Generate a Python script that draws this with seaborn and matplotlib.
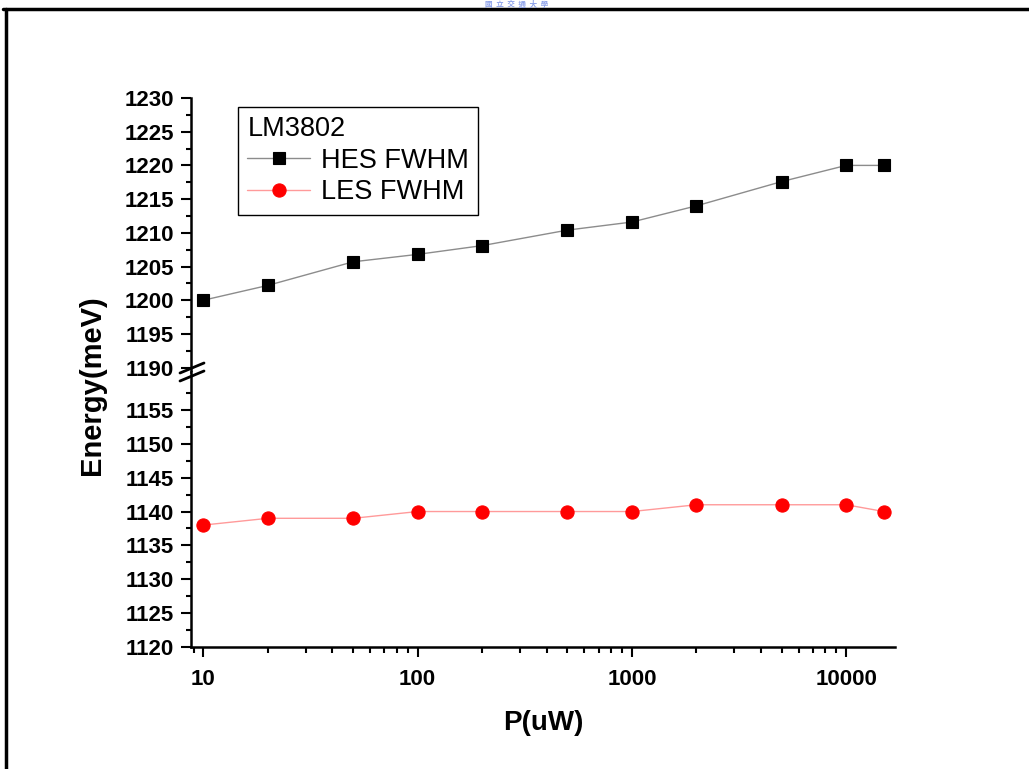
import matplotlib
matplotlib.use("Agg")
import matplotlib.pyplot as plt
from matplotlib.lines import Line2D
from matplotlib.ticker import FixedLocator, LogLocator, NullFormatter, FixedFormatter
import numpy as np
import pandas as pd
import seaborn as sns

# ---- data ----
power_uW = [10, 20, 50, 100, 200, 500, 1000, 2000, 5000, 10000, 15000]
hes_fwhm = [1200.0, 1202.2, 1205.7, 1206.8, 1208.1, 1210.4, 1211.6, 1214.0, 1217.6, 1220.0, 1220.0]
les_fwhm = [1138.0, 1139.0, 1139.0, 1140.0, 1140.0, 1140.0, 1140.0, 1141.0, 1141.0, 1141.0, 1140.0]
series_labels = ["HES FWHM", "LES FWHM"]
legend_title = "LM3802"
upper_yticks = [1190, 1195, 1200, 1205, 1210, 1215, 1220, 1225, 1230]
lower_yticks = [1120, 1125, 1130, 1135, 1140, 1145, 1150, 1155]
xticks = [10, 100, 1000, 10000]
xtick_labels = ["10", "100", "1000", "10000"]
x_label = "P(uW)"
y_label = "Energy(meV)"
watermark = "國  立  交  通  大  學"

df_hes = pd.DataFrame({"P": power_uW, "E": hes_fwhm})
df_les = pd.DataFrame({"P": power_uW, "E": les_fwhm})

sns.set_theme(style="ticks")
plt.rcParams["font.family"] = ["Liberation Sans", "DejaVu Sans"]
plt.rcParams.update({"text.color": "black", "axes.labelcolor": "black",
                     "xtick.color": "black", "ytick.color": "black",
                     "axes.edgecolor": "black"})

W, H = 1029, 769
fig = plt.figure(figsize=(W / 100, H / 100), dpi=100)
fig.patch.set_facecolor("white")

left_px, right_px = 191, 895
top_px, mid_px, bot_px = 98, 372, 647

def fy(py):
    return 1 - py / H

ax_top = fig.add_axes([left_px / W, fy(mid_px), (right_px - left_px) / W, (mid_px - top_px) / H])
ax_bot = fig.add_axes([left_px / W, fy(bot_px), (right_px - left_px) / W, (bot_px - mid_px) / H])

sns.lineplot(data=df_hes, x="P", y="E", ax=ax_top, color="#8c8c8c", linewidth=1.0,
             marker="s", markersize=8, markerfacecolor="black", markeredgecolor="black",
             markeredgewidth=0.8, label=series_labels[0])
sns.lineplot(data=df_les, x="P", y="E", ax=ax_bot, color="#ff9a9a", linewidth=1.0,
             marker="o", markersize=9.5, markerfacecolor="#ff0000", markeredgecolor="#ff0000",
             markeredgewidth=0.8, label=series_labels[1])

for ax in (ax_top, ax_bot):
    ax.set_xscale("log")
    ax.set_xlim(8.75, 16900)
    ax.set_facecolor("white")
    ax.spines["top"].set_visible(False)
    ax.spines["right"].set_visible(False)
    ax.spines["left"].set_linewidth(1.8)
    ax.spines["bottom"].set_linewidth(1.8)
    ax.spines["left"].set_color("black")
    ax.spines["bottom"].set_color("black")
    ax.set_xlabel("")
    ax.set_ylabel("")
    ax.tick_params(axis="y", which="major", length=7, width=1.5, pad=5,
                   labelsize=16, direction="out", colors="black")
    ax.tick_params(axis="y", which="minor", length=3.6, width=1.5, direction="out", colors="black")
    if ax.get_legend() is not None:
        ax.get_legend().remove()

ax_top.set_ylim(1189.35, 1230)
ax_bot.set_ylim(1120, 1160.6)
ax_top.yaxis.set_major_locator(FixedLocator(upper_yticks))
ax_top.yaxis.set_minor_locator(FixedLocator([v + 2.5 for v in upper_yticks[:-1]]))
ax_bot.yaxis.set_major_locator(FixedLocator(lower_yticks))
ax_bot.yaxis.set_minor_locator(FixedLocator([v + 2.5 for v in lower_yticks]))
ax_top.set_yticklabels([str(v) for v in upper_yticks], fontweight="bold", fontsize=16)
ax_bot.set_yticklabels([str(v) for v in lower_yticks], fontweight="bold", fontsize=16)

ax_top.spines["bottom"].set_visible(False)
ax_top.tick_params(axis="x", which="both", bottom=False, labelbottom=False)

ax_bot.xaxis.set_major_locator(FixedLocator(xticks))
ax_bot.xaxis.set_major_formatter(FixedFormatter(xtick_labels))
ax_bot.xaxis.set_minor_locator(LogLocator(base=10, subs=np.arange(2, 10), numticks=20))
ax_bot.xaxis.set_minor_formatter(NullFormatter())
ax_bot.tick_params(axis="x", which="major", length=7, width=1.5, pad=9, labelsize=16,
                   direction="out", colors="black")
ax_bot.tick_params(axis="x", which="minor", length=4, width=1.5, direction="out", colors="black")
for t in ax_bot.get_xticklabels():
    t.set_fontweight("bold")

ax_bot.set_xlabel(x_label, fontsize=20, fontweight="bold", color="black")
ax_bot.xaxis.set_label_coords(0.5, (bot_px - 710) / (bot_px - mid_px))
fig.text(92 / W, fy(385), y_label, rotation=90, ha="center", va="center",
         fontsize=21, fontweight="bold", color="black")

# legend
h1, l1 = ax_top.get_legend_handles_labels()
h2, l2 = ax_bot.get_legend_handles_labels()
leg = ax_top.legend(h1 + h2, l1 + l2, title=legend_title, loc="upper left",
                    bbox_to_anchor=((238 - left_px) / (right_px - left_px),
                                    (mid_px - 107) / (mid_px - top_px)),
                    borderaxespad=0, fontsize=19.5, title_fontsize=19.5, frameon=True,
                    fancybox=False, edgecolor="black", framealpha=1, handlelength=2.3,
                    handletextpad=0.4, labelspacing=0.2, borderpad=0.35,
                    alignment="left", labelcolor="black")
leg.get_title().set_color("black")
leg.get_frame().set_linewidth(1.0)

# axis break marks
for dy in (-4, 4):
    fig.add_artist(Line2D([180 / W, 204 / W], [fy(mid_px + 5 + dy), fy(mid_px - 5 + dy)],
                          transform=fig.transFigure, color="black", lw=2.0))

# page frame
fig.add_artist(Line2D([3 / W, 1], [fy(9), fy(9)], transform=fig.transFigure, color="black", lw=2.5))
fig.add_artist(Line2D([6 / W, 6 / W], [fy(9), 0], transform=fig.transFigure, color="black", lw=2.5))

# faint watermark above the page frame
fig.text(517 / W, fy(4), watermark, ha="center", va="center", fontsize=5.5,
         fontweight="bold", color="#8fa3ea", family=["Noto Sans CJK TC", "DejaVu Sans"])

fig.savefig("out.png", dpi=100, facecolor="white")
